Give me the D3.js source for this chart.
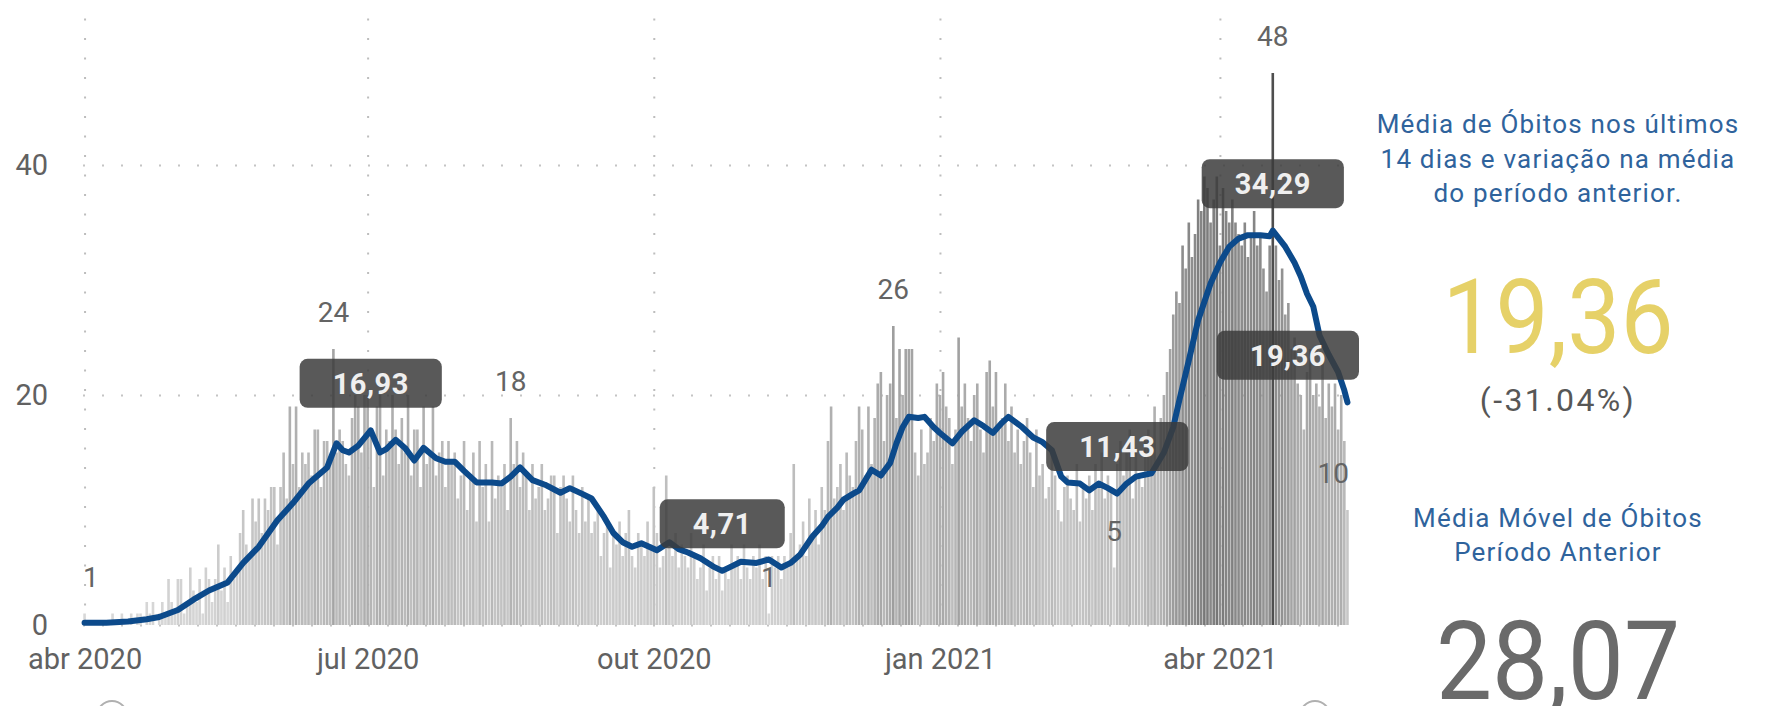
<!DOCTYPE html>
<html lang="pt-BR">
<head>
<meta charset="utf-8">
<title>Óbitos diários e média móvel</title>
<script src="https://cdn.jsdelivr.net/npm/d3@7"></script>
<style>
  body { margin: 0; background: #fff; }
  svg text { font-family: Roboto, "DejaVu Sans", sans-serif; }
</style>
</head>
<body>
<svg id="chart" width="1769" height="706"></svg>
<script>
// data: one value per day starting 1 abr 2020
var startDate = Date.UTC(2020, 3, 1);

var obitos = [
  1,0,0,0,0,0,0,   0,0,1,0,0,1,0,   0,1,0,1,1,0,2,   1,2,0,1,2,1,4,
  2,1,4,4,1,2,5,   3,2,4,1,5,4,2,   4,7,3,5,2,6,4,   5,8,10,7,6,11,9,
  11,8,11,10,12,12,7,   12,15,11,19,14,19,12,   15,14,15,13,17,17,12,   16,16,14,24,15,17,16,
  14,13,18,20,19,15,20,   20,17,12,19,20,13,17,   16,20,17,14,18,15,20,   13,17,17,12,19,14,15,
  19,13,15,16,12,16,14,   15,11,13,16,10,13,15,   9,16,12,14,9,16,11,   13,12,14,10,18,14,16,
  12,15,13,10,14,11,12,   14,10,11,13,13,8,12,   13,11,9,13,10,8,12,   9,11,8,9,10,6,8,
  9,5,8,7,9,6,8,   10,6,5,8,7,6,9,   7,12,8,5,6,13,7,   6,8,5,7,6,5,8,
  6,4,5,7,3,5,6,   4,6,3,5,4,7,5,   6,4,7,5,4,6,5,   7,4,6,1,6,5,6,
  4,6,5,8,14,6,7,   9,6,11,8,10,7,12,   10,16,19,11,12,14,10,   15,13,12,16,19,17,13,
  19,14,18,21,22,16,20,   21,26,18,24,20,24,24,   24,15,13,17,14,15,18,   16,21,20,22,19,18,14,
  17,25,19,21,18,16,20,   21,17,15,22,23,19,22,   17,18,21,16,19,15,17,   14,16,18,15,12,17,13,
  14,11,12,15,13,10,9,   12,13,11,10,14,9,12,   11,13,10,14,12,15,11,   13,12,5,14,16,13,15,
  17,11,15,13,12,16,17,   16,19,14,18,20,22,24,   27,29,28,33,31,35,32,   34,37,36,39,38,35,37,
  39,33,38,36,35,37,35,   34,33,35,32,34,36,33,   34,31,29,33,48,33,30,   31,27,28,24,25,21,20,
  17,22,24,20,21,19,23,   18,21,19,21,17,20,16,   10
];

// média de 14 dias: [dia, valor]
var mediaMovel = [
  [0,0.2],[7,0.2],[14,0.3],[20,0.5],[24,0.7],[30,1.3],[35,2.2],[40,3.0],[46,3.7],[51,5.4],
  [56,6.8],[62,9.1],[67,10.6],[72,12.3],[78,13.7],[81,15.8],[83,15.2],[85,15.0],[88,15.6],[92,16.93],
  [95,15.0],[97,15.3],[100,16.1],[103,15.4],[106,14.3],[109,15.4],[113,14.5],[116,14.2],[119,14.2],[122,13.4],
  [126,12.4],[131,12.4],[134,12.3],[137,12.9],[140,13.7],[144,12.6],[148,12.2],[153,11.5],[156,11.9],[160,11.4],
  [163,11.0],[167,9.4],[170,8.0],[173,7.2],[176,6.8],[179,7.1],[184,6.5],[188,7.2],[191,6.6],[194,6.3],
  [198,5.8],[202,5.1],[205,4.71],[208,5.1],[211,5.5],[216,5.4],[220,5.7],[224,5.0],[227,5.4],[230,6.1],
  [234,7.7],[237,8.6],[239,9.4],[242,10.2],[244,10.9],[247,11.4],[249,11.7],[253,13.5],[256,13.0],[259,14.1],
  [261,15.8],[263,17.2],[265,18.1],[268,18.0],[270,18.1],[273,17.2],[275,16.7],[279,15.8],[282,16.8],[286,17.8],
  [289,17.3],[292,16.7],[295,17.6],[297,18.1],[301,17.3],[305,16.3],[308,15.9],[311,15.2],[314,12.9],[316,12.4],
  [320,12.3],[323,11.7],[326,12.3],[329,11.9],[332,11.43],[335,12.3],[338,12.9],[343,13.2],[347,15.0],[350,17.2],
  [352,19.6],[355,23.0],[358,26.5],[362,29.7],[365,31.5],[368,32.9],[371,33.6],[374,33.9],[378,33.9],[381,33.8],
  [382,34.29],[384,33.6],[386,32.9],[389,31.5],[391,30.3],[393,28.8],[395,27.7],[397,25.2],[400,23.5],[403,22.0],
  [405,20.4],[406,19.36]
];

var yTicks = [0, 20, 40];
var xTickDays = [0, 91, 183, 275, 365];
var xTickLabels = ["abr 2020", "jul 2020", "out 2020", "jan 2021", "abr 2021"];
var barLabelDays = [0, 80, 137, 220, 260, 331, 382, 406];
var lineLabelDays = [92, 205, 332, 382, 406];

var mediaAtual = 19.36;
var mediaAnterior = 28.07;
var variacao = -31.04;
var titulo1 = ["Média de Óbitos nos últimos", "14 dias e variação na média", "do período anterior."];
var titulo2 = ["Média Móvel de Óbitos", "Período Anterior"];

// layout
var plotLeft = 83, plotRight = 1349, plotTop = 17, plotBottom = 625;
var svg = d3.select("#chart");
var day = function(i) { return new Date(startDate + i * 864e5); };
var fmt = function(v) { return v.toFixed(2).replace(".", ","); };

var x = d3.scaleUtc()
    .domain([day(-0.5), day(obitos.length - 0.5)])
    .range([plotLeft, plotRight]);
// 40 sits at y=165
var y = d3.scaleLinear()
    .domain([0, 40 * (plotBottom - plotTop) / (plotBottom - 165)])
    .range([plotBottom, plotTop]);

var barColor = d3.scaleLinear()
    .domain([0, 12, 36, 48])
    .range(["#dadada", "#c2c2c2", "#858585", "#4e4e4e"]);

// gridlines
svg.append("g")
    .attr("transform", "translate(0," + plotBottom + ")")
    .call(d3.axisBottom(x).tickValues(xTickDays.map(day)).tickSize(-(plotBottom - plotTop)).tickFormat(""))
    .call(function(g) { g.select(".domain").remove(); })
    .selectAll("line")
    .attr("stroke", "#bdbdbd").attr("stroke-width", 2).attr("stroke-dasharray", "2,17.5");

svg.append("g")
    .attr("transform", "translate(" + plotLeft + ",0)")
    .call(d3.axisLeft(y).tickValues(yTicks).tickSize(-(plotRight - plotLeft)).tickFormat(""))
    .call(function(g) { g.select(".domain").remove(); })
    .selectAll("line")
    .attr("stroke", "#c4c4c4").attr("stroke-width", 2).attr("stroke-dasharray", "2,17");

// bars
var bw = 2.6;
svg.append("g").selectAll("rect")
    .data(obitos)
    .join("rect")
    .attr("x", function(d, i) { return x(day(i)) - bw / 2; })
    .attr("y", function(d) { return y(d); })
    .attr("width", bw)
    .attr("height", function(d) { return y(0) - y(d); })
    .attr("fill", function(d) { return barColor(d); });

// moving average line
var line = d3.line()
    .x(function(d) { return x(day(d[0])); })
    .y(function(d) { return y(d[1]); });
svg.append("path")
    .datum(mediaMovel)
    .attr("d", line)
    .attr("fill", "none")
    .attr("stroke", "#0c4a8b")
    .attr("stroke-width", 6)
    .attr("stroke-linejoin", "round")
    .attr("stroke-linecap", "round");

// axes text
var xAxis = svg.append("g")
    .attr("transform", "translate(0," + plotBottom + ")")
    .call(d3.axisBottom(x).tickValues(xTickDays.map(day)).tickSize(0).tickPadding(23)
      .tickFormat(function(d, i) { return xTickLabels[i]; }));
xAxis.select(".domain").remove();
xAxis.selectAll("text").attr("font-size", 29).attr("fill", "#616161")
    .attr("font-family", "Roboto, sans-serif");

var yAxis = svg.append("g")
    .attr("transform", "translate(" + plotLeft + ",0)")
    .call(d3.axisLeft(y).tickValues(yTicks).tickSize(0).tickPadding(35));
yAxis.select(".domain").remove();
yAxis.selectAll("text").attr("font-size", 29).attr("fill", "#616161")
    .attr("font-family", "Roboto, sans-serif");

// bar data labels
svg.append("g").selectAll("text")
    .data(barLabelDays)
    .join("text")
    .attr("x", function(i) { return x(day(i)); })
    .attr("y", function(i) { return y(obitos[i]) - 37; })
    .attr("dy", "0.36em")
    .attr("text-anchor", "middle")
    .attr("font-size", 28)
    .attr("fill", "#646464")
    .text(function(i) { return obitos[i]; })
    .each(function() {
      var b = this.getBBox();
      if (b.x + b.width > plotRight) d3.select(this).attr("x", plotRight - b.width / 2);
      if (b.x < plotLeft) d3.select(this).attr("x", plotLeft + b.width / 2);
    });

// line value boxes
var lookup = new Map(mediaMovel);
var boxes = svg.append("g").selectAll("g")
    .data(lineLabelDays)
    .join("g");
boxes.append("rect").attr("rx", 8).attr("ry", 8)
    .attr("fill", "#3c3c3c").attr("fill-opacity", 0.85);
boxes.append("text")
    .attr("text-anchor", "middle")
    .attr("dy", "0.36em")
    .attr("font-size", 29)
    .attr("font-weight", 700)
    .attr("fill", "#efefef")
    .attr("letter-spacing", 0.5)
    .text(function(i) { return fmt(lookup.get(i)); });
boxes.each(function(i) {
  var g = d3.select(this);
  var tw = g.select("text").node().getComputedTextLength();
  var w = tw + 66, h = 49;
  var cx = x(day(i)), cy = y(lookup.get(i)) - 47;
  if (cx + w / 2 > plotRight + 10) cx = plotRight + 10 - w / 2;
  g.attr("transform", "translate(" + cx + "," + cy + ")");
  g.select("rect").attr("x", -w / 2).attr("y", -h / 2).attr("width", w).attr("height", h);
});

// right panel
var px = 1558;
svg.append("g").selectAll("text")
    .data(titulo1).join("text")
    .attr("x", px).attr("y", function(d, i) { return 133 + i * 34.5; })
    .attr("text-anchor", "middle").attr("font-size", 26).attr("fill", "#2f639c")
    .attr("letter-spacing", 1.2)
    .text(function(d) { return d; });

svg.append("text")
    .attr("x", px).attr("y", 353)
    .attr("text-anchor", "middle").attr("font-size", 104).attr("fill", "#e6d168")
    .attr("textLength", 231).attr("lengthAdjust", "spacingAndGlyphs")
    .text(fmt(mediaAtual));

svg.append("text")
    .attr("x", px).attr("y", 411)
    .attr("text-anchor", "middle").attr("font-size", 32).attr("fill", "#575757")
    .attr("letter-spacing", 2.4)
    .text("(" + variacao.toFixed(2) + "%)");

svg.append("g").selectAll("text")
    .data(titulo2).join("text")
    .attr("x", px).attr("y", function(d, i) { return 527 + i * 34; })
    .attr("text-anchor", "middle").attr("font-size", 26).attr("fill", "#2f639c")
    .attr("letter-spacing", 1.2)
    .text(function(d) { return d; });

svg.append("text")
    .attr("x", px).attr("y", 699)
    .attr("text-anchor", "middle").attr("font-size", 110).attr("fill", "#6a6a6a")
    .attr("textLength", 244).attr("lengthAdjust", "spacingAndGlyphs")
    .text(fmt(mediaAnterior));

// slider handles cut off at the bottom
svg.append("g").selectAll("circle")
    .data([112, 1315]).join("circle")
    .attr("cx", function(d) { return d; }).attr("cy", 716).attr("r", 15)
    .attr("fill", "#fff").attr("stroke", "#b0b0b0").attr("stroke-width", 2);
</script>
</body>
</html>
